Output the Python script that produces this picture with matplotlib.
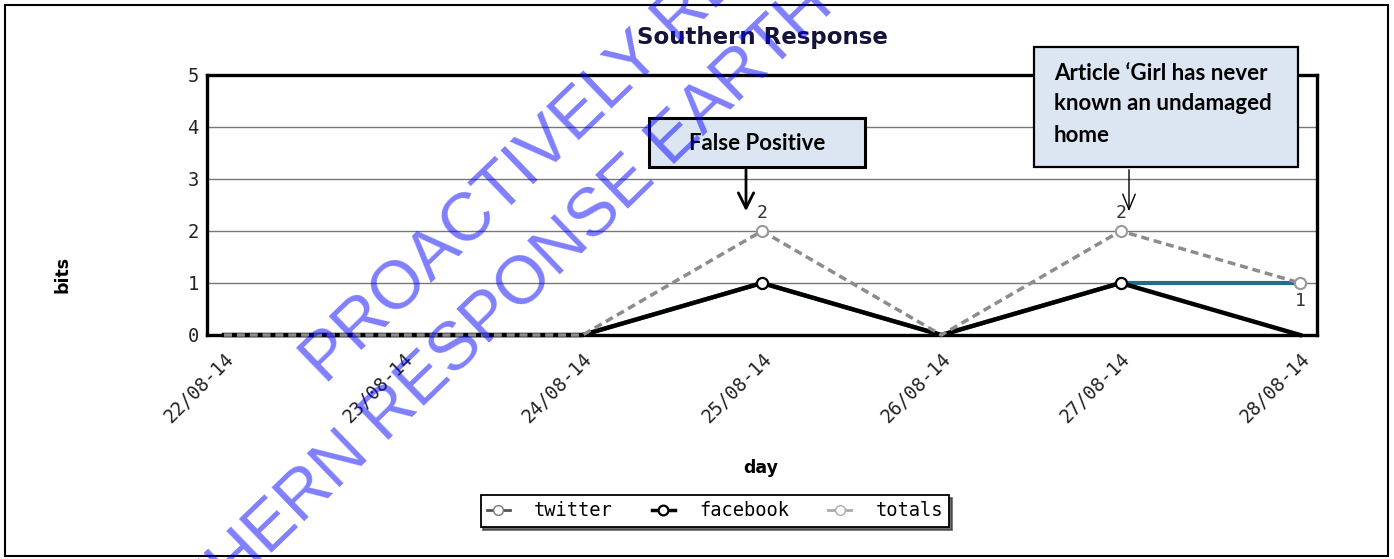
import matplotlib.pyplot as plt
from matplotlib.lines import Line2D
from matplotlib.patches import Rectangle
import numpy as np

# data
days = ['22/08-14', '23/08-14', '24/08-14', '25/08-14', '26/08-14', '27/08-14', '28/08-14']
twitter = [0, 0, 0, 1, 0, 1, 1]
facebook = [0, 0, 0, 1, 0, 1, 0]
totals = [0, 0, 0, 2, 0, 2, 1]
yticks = [0, 1, 2, 3, 4, 5]

W, H = 1394, 559
fig = plt.figure(figsize=(W / 100, H / 100), dpi=100)


def fx(px):
    return px / W


def fy(py):
    return 1 - py / H


def nz(vals):
    # markers are only visible on non-zero points
    return [i for i, v in enumerate(vals) if v > 0]


mono = 'DejaVu Sans Mono'
ax = fig.add_axes([fx(207), fy(335), (1317 - 207) / W, (335 - 75) / H])
x = np.arange(len(days))

ax.plot(x, twitter, color='#1f6f8b', lw=3, marker='o', ms=8, mfc='white',
        mec='#888888', markevery=nz(twitter), zorder=3, clip_on=False)
ax.plot(x, facebook, color='black', lw=3.2, marker='o', ms=8, mfc='white',
        mec='black', mew=1.6, markevery=nz(facebook), zorder=4, clip_on=False)
ax.plot(x, totals, color='#8c8c8c', lw=2.5, ls=(0, (2.3, 1.4)), marker='o', ms=8,
        mfc='white', mec='#999999', mew=1.5, markevery=nz(totals), zorder=5, clip_on=False)

# value labels
for i, v in enumerate(totals):
    if v == 0:
        continue
    off = -18 if i == len(totals) - 1 else 18
    ax.annotate(str(v), (x[i], v), xytext=(0, off), textcoords='offset pixels',
                ha='center', va='center', fontsize=13, family=mono, color='#333333', zorder=6)

ax.set_xlim(-0.095, len(days) - 1 + 0.095)
ax.set_ylim(0, 5)
ax.set_yticks(yticks)
ax.set_xticks(x)
ax.set_xticklabels(days, rotation=45, ha='right', rotation_mode='anchor',
                   fontsize=13.5, family=mono, color='#222222')
for lab in ax.get_yticklabels():
    lab.set_family(mono)
    lab.set_fontsize(13.5)
    lab.set_color('#222222')
ax.tick_params(axis='x', length=0, pad=10)
ax.tick_params(axis='y', length=0, pad=6)
ax.yaxis.grid(True, color='#777777', lw=1)
ax.set_axisbelow(True)
for s in ax.spines.values():
    s.set_linewidth(2.4)
    s.set_color('black')

ax.set_ylabel('bits', fontsize=12.5, fontweight='bold')
ax.yaxis.set_label_coords(-0.1225, 0.2346)
ax.set_xlabel('day', fontsize=12.5, fontweight='bold')
ax.xaxis.label.set_va('center')
ax.xaxis.set_label_coords(0.4985, -0.5115)
ax.text(0.5, 1.146, 'Southern Response', transform=ax.transAxes, ha='center',
        va='center', fontsize=16.5, fontweight='bold', color='#14143a')

# legend
handles = [
    Line2D([], [], color='#555555', lw=2, marker='o', ms=7, mfc='white', mec='#777777'),
    Line2D([], [], color='black', lw=2.5, marker='o', ms=7, mfc='white', mec='black', mew=1.6),
    Line2D([], [], color='#aaaaaa', lw=2, marker='o', ms=7, mfc='white', mec='#aaaaaa'),
]
leg = fig.legend(handles, ['twitter', 'facebook', 'totals'], loc='center',
                 bbox_to_anchor=(fx(715), fy(511)), ncol=3, fancybox=False,
                 shadow={'color': '#333333', 'alpha': 0.7}, framealpha=1,
                 edgecolor='black', handlelength=1.2, handletextpad=1.3,
                 columnspacing=2.1, borderpad=0.35, prop={'family': mono, 'size': 13.5})
leg.get_frame().set_linewidth(1.3)

# callout boxes
box_fc = '#dce6f2'
fig.patches.append(Rectangle((fx(649), fy(167)), (865 - 649) / W, (167 - 118) / H,
                             transform=fig.transFigure, fc=box_fc, ec='black', lw=2.2, zorder=7))
fig.text(fx(757), fy(143), 'False Positive', ha='center', va='center',
         fontsize=16, fontweight='bold', family='Lato', zorder=8)
fig.patches.append(Rectangle((fx(1034), fy(167)), (1298 - 1034) / W, (167 - 47) / H,
                             transform=fig.transFigure, fc=box_fc, ec='black', lw=1.6, zorder=7))
for ty, line in zip([73, 104, 135], ['Article \u2018Girl has never', 'known an undamaged', 'home']):
    fig.text(fx(1054), fy(ty), line, ha='left', va='center', fontsize=16,
             fontweight='bold', family='Lato', zorder=8)

ax.annotate('', xy=(746, H - 214), xycoords='figure pixels', xytext=(746, H - 167),
            textcoords='figure pixels',
            arrowprops=dict(arrowstyle='->,head_length=1.1,head_width=0.55', lw=2, color='black'),
            zorder=8)
ax.annotate('', xy=(1129, H - 214), xycoords='figure pixels', xytext=(1129, H - 167),
            textcoords='figure pixels',
            arrowprops=dict(arrowstyle='->,head_length=1.1,head_width=0.45', lw=1, color='black'),
            zorder=8)

# outer frame
fig.patches.append(Rectangle((fx(5), fy(556)), (1388 - 5) / W, (556 - 5) / H,
                             transform=fig.transFigure, fill=False, ec='black', lw=1.5, zorder=1))

# watermark
ang = np.radians(44)
d = np.array([np.cos(ang), np.sin(ang)])    # along baseline (pixels, y up)
n = np.array([np.sin(ang), -np.cos(ang)])   # towards next line
wm_size = 49
wm = dict(fontsize=wm_size, color='#0000ff', alpha=0.5, rotation=44, rotation_mode='anchor',
          ha='left', va='baseline', family='Liberation Sans', zorder=20)
p1 = np.array([326.0, H - 386.0])
fig.text(p1[0] / W, p1[1] / H, 'PROACTIVELY RELEASED BY', **wm)

r = fig.canvas.get_renderer()
t1 = fig.text(0, 0, 'SOUTHERN', fontsize=wm_size, family='Liberation Sans')
t2 = fig.text(0, 0, 'ERN', fontsize=wm_size, family='Liberation Sans')
w_pre = t1.get_window_extent(r).width - t2.get_window_extent(r).width
t1.remove()
t2.remove()
p_e = p1 - 160 * d + 82 * n          # start of the visible "ERN"
p2 = p_e - w_pre * d
fig.text(p2[0] / W, p2[1] / H, 'SOUTHERN RESPONSE EARTHQUAKE SERVICES', **wm)

fig.savefig('out.png', dpi=100)
